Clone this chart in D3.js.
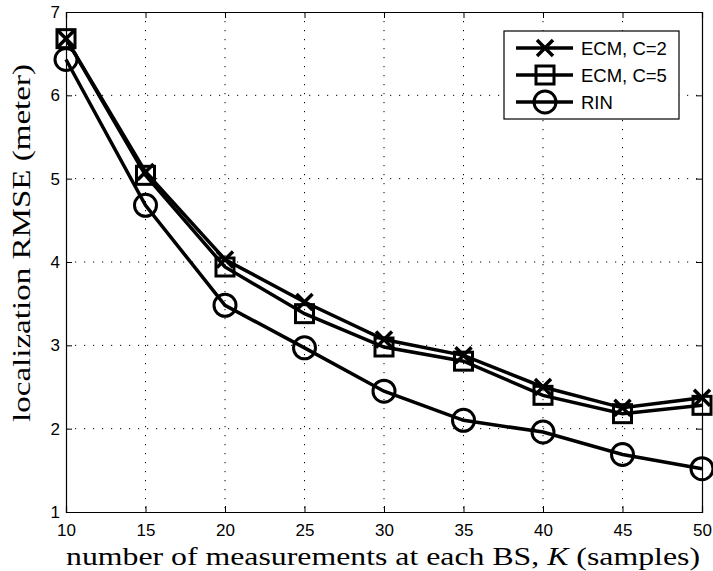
<!DOCTYPE html>
<html><head><meta charset="utf-8">
<script src="https://cdn.jsdelivr.net/npm/d3@7"></script>
<style>body{margin:0;background:#fff}svg{display:block}</style>
</head><body>
<script>
const xValues = [10,15,20,25,30,35,40,45,50];
const ecm2 = [6.68,5.08,4.03,3.52,3.07,2.88,2.50,2.25,2.37];
const ecm5 = [6.68,5.04,3.94,3.38,2.98,2.81,2.40,2.18,2.28];
const rin  = [6.43,4.68,3.48,2.97,2.45,2.10,1.96,1.69,1.52];
const xTicks = [10,15,20,25,30,35,40,45,50];
const yTicks = [1,2,3,4,5,6,7];
const seriesNames = ["ECM, C=2","ECM, C=5","RIN"];
const seriesMarkers = ["x","square","circle"];

const W=713,H=571;
const L=66,R=702,T=12,B=512;
const svg=d3.select("body").append("svg").attr("width",W).attr("height",H);
const x=d3.scaleLinear().domain([10,50]).range([L,R]);
const y=d3.scaleLinear().domain([1,7]).range([B,T]);

// grid
const g=svg.append("g");
xTicks.slice(1,-1).forEach(t=>g.append("line").attr("x1",x(t)).attr("x2",x(t)).attr("y1",T).attr("y2",B)
  .attr("stroke","#000").attr("stroke-width",1).attr("stroke-dasharray","1.2,7.8"));
yTicks.slice(1,-1).forEach(t=>g.append("line").attr("y1",y(t)).attr("y2",y(t)).attr("x1",L).attr("x2",R)
  .attr("stroke","#000").attr("stroke-width",1).attr("stroke-dasharray","1.2,7.8"));

// axes
const xa=svg.append("g").attr("transform",`translate(0,${B})`)
  .call(d3.axisBottom(x).tickValues(xTicks).tickSize(-6).tickPadding(12).tickFormat(d3.format("d")));
const xa2=svg.append("g").attr("transform",`translate(0,${T})`)
  .call(d3.axisTop(x).tickValues(xTicks).tickSize(-6).tickFormat(""));
const ya=svg.append("g").attr("transform",`translate(${L},0)`)
  .call(d3.axisLeft(y).tickValues(yTicks).tickSize(-6).tickPadding(6).tickFormat(d3.format("d")));
const ya2=svg.append("g").attr("transform",`translate(${R},0)`)
  .call(d3.axisRight(y).tickValues(yTicks).tickSize(-6).tickFormat(""));
[xa,xa2,ya,ya2].forEach(a=>{
  a.selectAll("path").attr("stroke","#000").attr("stroke-width",1.2);
  a.selectAll("line").attr("stroke","#000");
  a.selectAll("text").attr("font-family","Liberation Sans, Arial, sans-serif").attr("font-size",17).attr("fill","#000");
});
xa.selectAll("text").attr("dy","0.71em");

// lines
const line=d3.line().x((d,i)=>x(xValues[i])).y(d=>y(d));
const allSeries=[ecm2,ecm5,rin];
function marker(sel,type,cx,cy){
  if(type==="x"){
    const s=8;
    sel.append("path").attr("d",`M${cx-s},${cy-s}L${cx+s},${cy+s}M${cx-s},${cy+s}L${cx+s},${cy-s}`)
      .attr("stroke","#000").attr("stroke-width",3.5).attr("fill","none");
  } else if(type==="square"){
    const s=9;
    sel.append("rect").attr("x",cx-s).attr("y",cy-s).attr("width",2*s).attr("height",2*s)
      .attr("stroke","#000").attr("stroke-width",3).attr("fill","none");
  } else {
    sel.append("circle").attr("cx",cx).attr("cy",cy).attr("r",11)
      .attr("stroke","#000").attr("stroke-width",3).attr("fill","none");
  }
}
allSeries.forEach((s,k)=>{
  svg.append("path").datum(s).attr("d",line).attr("fill","none").attr("stroke","#000").attr("stroke-width",3.5);
  const mg=svg.append("g");
  s.forEach((v,i)=>marker(mg,seriesMarkers[k],x(xValues[i]),y(v)));
});

// legend
const lg=svg.append("g");
lg.append("rect").attr("x",504).attr("y",31).attr("width",175).attr("height",88)
  .attr("fill","#fff").attr("stroke","#000").attr("stroke-width",1.2);
seriesNames.forEach((n,k)=>{
  const cy=48+k*27;
  lg.append("line").attr("x1",516).attr("x2",573).attr("y1",cy).attr("y2",cy).attr("stroke","#000").attr("stroke-width",3.5);
  marker(lg,seriesMarkers[k],545,cy);
  lg.append("text").attr("x",581).attr("y",cy).attr("dy","0.36em").text(n)
    .attr("font-family","Liberation Sans, Arial, sans-serif").attr("font-size",18.5);
});

// axis labels
svg.append("text").attr("x",383).attr("y",565).attr("text-anchor","middle")
  .attr("font-family","Liberation Serif, DejaVu Serif, serif").attr("font-size",25)
  .attr("textLength",634).attr("lengthAdjust","spacingAndGlyphs")
  .html('number of measurements at each BS, <tspan font-style="italic">K</tspan> (samples)');
svg.append("text").attr("transform",`translate(30,243) rotate(-90)`).attr("text-anchor","middle")
  .attr("font-family","Liberation Serif, DejaVu Serif, serif").attr("font-size",26)
  .attr("textLength",358).attr("lengthAdjust","spacingAndGlyphs")
  .text("localization RMSE (meter)");
</script>
</body></html>
